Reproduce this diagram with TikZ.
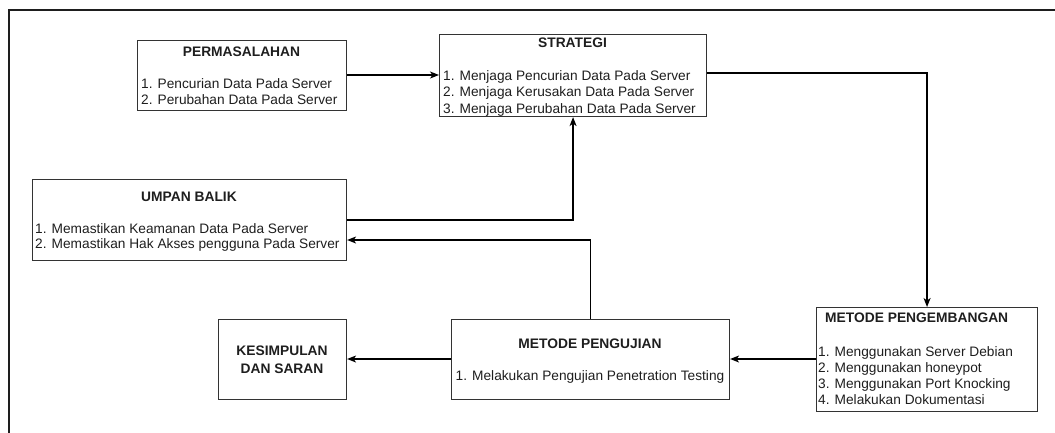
\documentclass[tikz,border=0pt]{standalone}
\usepackage{fontspec}
\setmainfont{Liberation Sans}
\usetikzlibrary{arrows.meta,calc}
\definecolor{ink}{HTML}{1E1E1E}
\definecolor{edge}{HTML}{333333}
\tikzset{
  box/.style={draw=edge, line width=1.1pt, inner sep=0pt, anchor=north west},
  ttl/.style={font=\fontsize{13.8}{15}\selectfont\bfseries, text=ink, inner sep=0pt},
  lst/.style={font=\fontsize{13.7}{15.5}\selectfont, text=ink, inner sep=0pt, align=left, anchor=west},
  link/.style={draw=black, line width=1.2pt, -{Stealth[length=9pt,width=7pt,inset=2.5pt]}},
}
\begin{document}
\begin{tikzpicture}[x=1pt,y=-1pt]
  \useasboundingbox (0,0) rectangle (1055,432);
  % outer frame, running past the page edge on the right and bottom
  \draw[ink, line width=2.2pt] (9,445) -- (9,10) -- (1070,10);

  % boxes
  \node[box, minimum width=209pt, minimum height=70pt]  (perm)  at (137,40)  {};
  \node[box, minimum width=267pt, minimum height=82pt]  (strat) at (439,34)  {};
  \node[box, minimum width=314pt, minimum height=81pt]  (umpan) at (32,179)  {};
  \node[box, minimum width=128pt, minimum height=80pt]  (kesim) at (218,319) {};
  \node[box, minimum width=278pt, minimum height=80pt]  (uji)   at (451,319) {};
  \node[box, minimum width=221pt, minimum height=104pt] (kemb)  at (816,307) {};

  % texts
  \node[ttl] (perm-t) at (241.5,52) {PERMASALAHAN};
  \node[lst] (perm-l) at (141,91.5) {1. Pencurian Data Pada Server\\2. Perubahan Data Pada Server};

  \node[ttl] (strat-t) at (572.5,43) {STRATEGI};
  \node[lst, font=\fontsize{13.7}{16.5}\selectfont] (strat-l) at (443,93) {1. Menjaga Pencurian Data Pada Server\\2. Menjaga Kerusakan Data Pada Server\\3. Menjaga Perubahan Data Pada Server};

  \node[ttl] (umpan-t) at (189,197) {UMPAN BALIK};
  \node[lst] (umpan-l) at (35,237.5) {1. Memastikan Keamanan Data Pada Server\\2. Memastikan Hak Akses pengguna Pada Server};

  \node[ttl, align=center, font=\fontsize{13.8}{18}\selectfont\bfseries] (kesim-t) at (282,360) {KESIMPULAN\\DAN SARAN};

  \node[ttl] (uji-t) at (590,344) {METODE PENGUJIAN};
  \node[lst, anchor=center] (uji-l) at (590,377) {1. Melakukan Pengujian Penetration Testing};

  \node[ttl, anchor=west] (kemb-t) at (825,318) {METODE PENGEMBANGAN};
  \node[lst, font=\fontsize{13.7}{16}\selectfont] (kemb-l) at (818,376) {1. Menggunakan Server Debian\\2. Menggunakan honeypot\\3. Menggunakan Port Knocking\\4. Melakukan Dokumentasi};

  % connectors
  \draw[link] ($(perm.north east)+(0,35)$) -- ($(strat.north west)+(0,41)$);
  \draw[link] ($(strat.north east)+(0,39)$) -| (kemb.north);
  \draw[link] ($(kemb.north west)+(0,52)$) -- ($(uji.north east)+(0,40)$);
  \draw[link] ($(uji.north west)+(0,40)$) -- ($(kesim.north east)+(0,40)$);
  \draw[link] (uji.north) |- ($(umpan.north east)+(0,61)$);
  \draw[link] ($(umpan.north east)+(0,41)$) -| (strat.south);
\end{tikzpicture}
\end{document}
